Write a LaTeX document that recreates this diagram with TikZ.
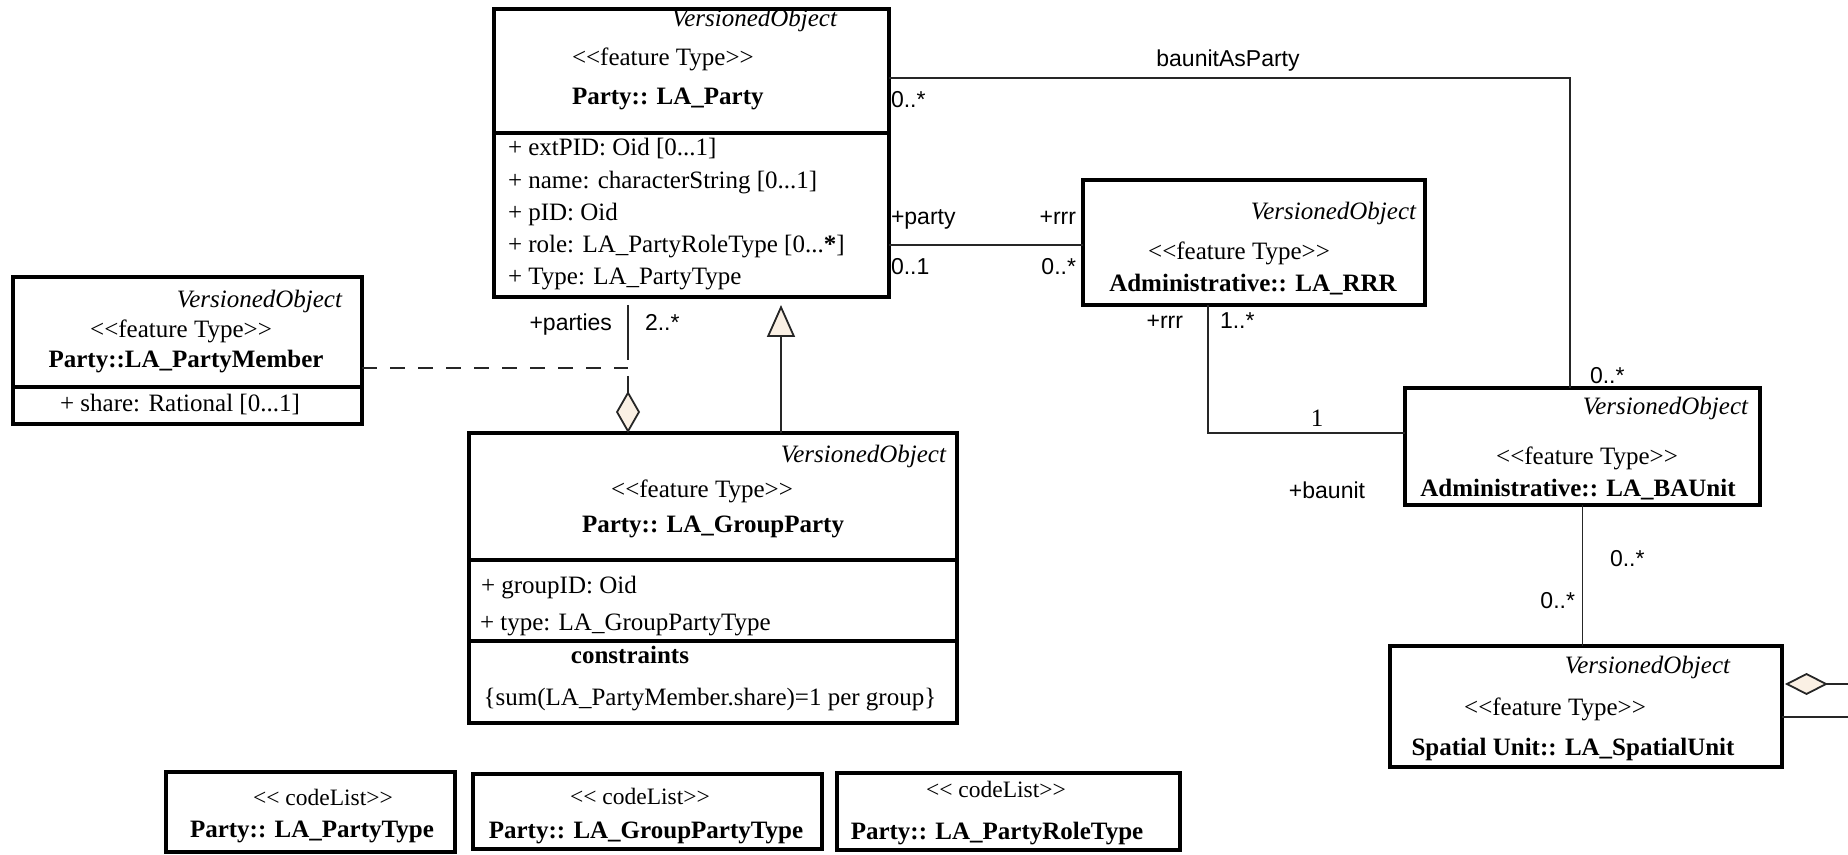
\documentclass[tikz,border=0pt]{standalone}
\usepackage{fontspec}
\setmainfont{Liberation Serif}[Ligatures=TeXOff]
\newfontfamily\labelsans{Liberation Sans}
\usetikzlibrary{arrows.meta}
\definecolor{tipfill}{HTML}{FAF0E4}

\begin{document}
\begin{tikzpicture}[x=0.5pt, y=-0.5pt,
  every node/.style={inner sep=0pt, outer sep=0pt},
  umlbox/.style={draw=black, line width=2.25pt, rectangle, inner sep=0pt},
  divider/.style={line width=2.25pt},
  vo/.style={font=\fontsize{12.5}{15}\selectfont\itshape},
  stereo/.style={font=\fontsize{12.5}{15}\selectfont},
  cname/.style={font=\fontsize{12.5}{15}\selectfont\bfseries},
  attr/.style={font=\fontsize{12.5}{15}\selectfont},
  clstereo/.style={font=\fontsize{11.75}{14}\selectfont},
  role/.style={font=\labelsans\fontsize{11.5}{14}\selectfont},
  conn/.style={line width=0.9pt, draw=black!85},
  gen/.style={conn, -{Triangle[fill=tipfill, length=16pt, width=14pt]}, shorten >=4pt},
  agg/.style={conn, -{Diamond[fill=tipfill, length=21pt, width=12pt]}},
  assoccls/.style={conn, dash pattern=on 7.5pt off 6.5pt}
]
\useasboundingbox (0,0) rectangle (1848,855);

% ---------- class texts ----------
% Party:: LA_Party
\node[vo, anchor=base east] (partyVO) at (837,27) {VersionedObject};
\node[stereo, anchor=base west] (partyST) at (572,66) {<<feature Type>>};
\node[cname, anchor=base west] (partyNM) at (572,105) {Party:: LA\_Party};
\node[attr, anchor=base west] (partyA1) at (508,156) {+ extPID: Oid [0...1]};
\node[attr, anchor=base west] (partyA2) at (508,188.5) {+ name: characterString [0...1]};
\node[attr, anchor=base west] (partyA3) at (508,221) {+ pID: Oid};
\node[attr, anchor=base west] (partyA4) at (508,253) {+ role: LA\_PartyRoleType [0...\textbf{*}]};
\node[attr, anchor=base west] (partyA5) at (508,285) {+ Type: LA\_PartyType};

% Party::LA_PartyMember
\node[vo, anchor=base east] (memberVO) at (342,308) {VersionedObject};
\node[stereo, anchor=base] (memberST) at (181,338) {<<feature Type>>};
\node[cname, anchor=base] (memberNM) at (186,368) {Party::LA\_PartyMember};
\node[attr, anchor=base] (memberA1) at (180,412) {+ share: Rational [0...1]};

% Party:: LA_GroupParty
\node[vo, anchor=base east] (groupVO) at (946,463) {VersionedObject};
\node[stereo, anchor=base] (groupST) at (702,498) {<<feature Type>>};
\node[cname, anchor=base] (groupNM) at (713,532) {Party:: LA\_GroupParty};
\node[attr, anchor=base west] (groupA1) at (481,593) {+ groupID: Oid};
\node[attr, anchor=base west] (groupA2) at (480,630) {+ type: LA\_GroupPartyType};
\node[cname, anchor=base] (groupCT) at (630,663) {constraints};
\node[attr, anchor=base] (groupC1) at (710,705) {\{sum(LA\_PartyMember.share)=1 per group\}};

% Administrative:: LA_RRR
\node[vo, anchor=base east] (rrrVO) at (1416,220) {VersionedObject};
\node[stereo, anchor=base] (rrrST) at (1239,260) {<<feature Type>>};
\node[cname, anchor=base] (rrrNM) at (1253,292) {Administrative:: LA\_RRR};

% Administrative:: LA_BAUnit
\node[vo, anchor=base east] (buVO) at (1748,415) {VersionedObject};
\node[stereo, anchor=base] (buST) at (1587,465) {<<feature Type>>};
\node[cname, anchor=base] (buNM) at (1578,497) {Administrative:: LA\_BAUnit};

% Spatial Unit:: LA_SpatialUnit
\node[vo, anchor=base east] (suVO) at (1730,673) {VersionedObject};
\node[stereo, anchor=base] (suST) at (1555,715) {<<feature Type>>};
\node[cname, anchor=base] (suNM) at (1573,755) {Spatial Unit:: LA\_SpatialUnit};

% code lists
\node[clstereo, anchor=base] (cl1ST) at (323,805) {<< codeList>>};
\node[cname, anchor=base] (cl1NM) at (312,837) {Party:: LA\_PartyType};
\node[clstereo, anchor=base] (cl2ST) at (640,804) {<< codeList>>};
\node[cname, anchor=base] (cl2NM) at (646,838) {Party:: LA\_GroupPartyType};
\node[clstereo, anchor=base] (cl3ST) at (996,797) {<< codeList>>};
\node[cname, anchor=base] (cl3NM) at (997,839) {Party:: LA\_PartyRoleType};

% ---------- class frames ----------
\node[umlbox, minimum width=197.5pt, minimum height=144pt] (party) at (691.5,153) {};
\node[umlbox, minimum width=174.5pt, minimum height=73.5pt] (member) at (187.5,350.5) {};
\node[umlbox, minimum width=244pt, minimum height=145pt] (group) at (713,578) {};
\node[umlbox, minimum width=171pt, minimum height=62.5pt] (rrr) at (1254,242.5) {};
\node[umlbox, minimum width=177.5pt, minimum height=58.5pt] (baunit) at (1582.5,446.5) {};
\node[umlbox, minimum width=196pt, minimum height=60.5pt] (spatial) at (1586,706.5) {};
\node[umlbox, minimum width=144.5pt, minimum height=40pt] (cl1) at (310.5,812) {};
\node[umlbox, minimum width=174.5pt, minimum height=37.5pt] (cl2) at (647.5,811.5) {};
\node[umlbox, minimum width=171.5pt, minimum height=38.5pt] (cl3) at (1008.5,811.5) {};

% compartment separators
\draw[divider] (party.west |- 0,133) -- (party.east |- 0,133);
\draw[divider] (member.west |- 0,387) -- (member.east |- 0,387);
\draw[divider] (group.west |- 0,560) -- (group.east |- 0,560);
\draw[divider] (group.west |- 0,641) -- (group.east |- 0,641);

% ---------- connectors ----------
% baunitAsParty
\draw[conn] ([yshift=37.5pt]party.east) -| ([xshift=-6.25pt]baunit.north);
% party -- rrr
\draw[conn] ([yshift=-1.25pt]rrr.west) -- ([yshift=-1.25pt]rrr.west -| party.east);
% rrr -- baunit
\draw[conn] ([xshift=-23pt]rrr.south) |- ([yshift=6.75pt]baunit.west);
% baunit -- spatial unit
\draw[conn] (baunit.south) -- (baunit.south |- spatial.north);
% generalization LA_GroupParty -> LA_Party
\draw[gen] ([xshift=34pt]group.north) -- ([xshift=34pt]group.north |- party.south);
% aggregation LA_Party (parties) <>- LA_GroupParty
\coordinate (aggx) at ([xshift=-31.75pt]party.south);
\draw[agg, shorten <=4pt, dash pattern=on 27.5pt off 8pt on 200pt] (aggx) -- (aggx |- group.north);
% association class LA_PartyMember
\draw[assoccls] ([yshift=-8.75pt]member.east) -- ([yshift=-8.75pt]member.east -| aggx);
% links leaving the spatial unit to the east
\coordinate (edgeA) at (1848,684);
\coordinate (edgeB) at (1848,717);
\draw[conn, -{Diamond[fill=tipfill, length=21.5pt, width=11pt]}, shorten >=1.5pt] (edgeA) -- (edgeA -| spatial.east);
\draw[conn] (spatial.east |- edgeB) -- (edgeB);

% ---------- role names and multiplicities ----------
\node[role, anchor=base] (lbAsParty) at (1228,67) {baunitAsParty};
\node[role, anchor=base west] (lbPartyMul) at (891,108) {0..*};
\node[role, anchor=base west] (lbParty) at (891,225) {+party};
\node[role, anchor=base west] (lbPartyM) at (891,275) {0..1};
\node[role, anchor=base east] (lbRrr) at (1076,225) {+rrr};
\node[role, anchor=base east] (lbRrrM) at (1076,275) {0..*};
\node[role, anchor=base east] (lbParties) at (612,331) {+parties};
\node[role, anchor=base west] (lbPartiesM) at (645,331) {2..*};
\node[role, anchor=base east] (lbRrr2) at (1183,329) {+rrr};
\node[role, anchor=base west] (lbRrr2M) at (1220,329) {1..*};
\node[attr, anchor=base] (lbOne) at (1317,427) {1};
\node[role, anchor=base] (lbBaunit) at (1327,499) {+baunit};
\node[role, anchor=base west] (lbBuTop) at (1590,384) {0..*};
\node[role, anchor=base west] (lbBuBot) at (1610,567) {0..*};
\node[role, anchor=base east] (lbSuTop) at (1575,608) {0..*};
\end{tikzpicture}
\end{document}
